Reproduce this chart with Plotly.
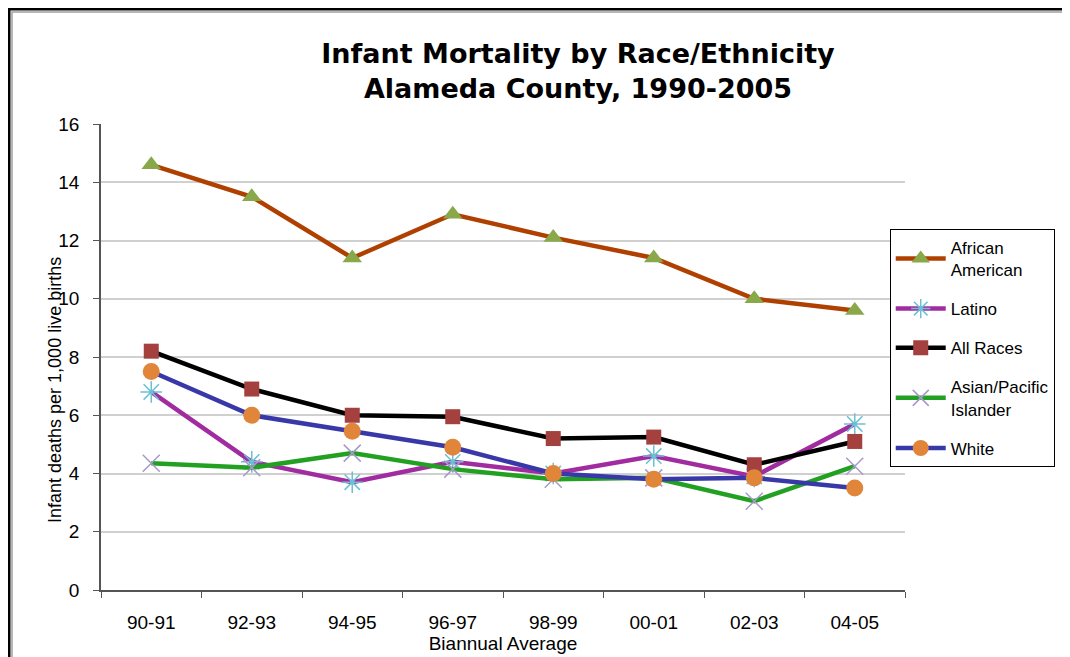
import plotly.graph_objects as go

periods = ["90-91", "92-93", "94-95", "96-97", "98-99", "00-01", "02-03", "04-05"]
african_american = [14.6, 13.5, 11.4, 12.9, 12.1, 11.4, 10.0, 9.6]
latino = [6.8, 4.4, 3.7, 4.4, 4.0, 4.6, 3.9, 5.7]
all_races = [8.2, 6.9, 6.0, 5.95, 5.2, 5.25, 4.3, 5.1]
asian_pi = [4.35, 4.2, 4.7, 4.15, 3.8, 3.85, 3.05, 4.25]
white = [7.5, 6.0, 5.45, 4.9, 4.0, 3.8, 3.85, 3.5]

y_ticks = [0, 2, 4, 6, 8, 10, 12, 14, 16]

FONT = "Liberation Sans, Arial, sans-serif"

series = [
    ("African<br>American", african_american, "#B04000",
     dict(symbol="triangle-up", size=17, color="#88A84A")),
    ("Latino", latino, "#A02CA0",
     dict(symbol="asterisk-open", size=18, color="#6BC0D4", line=dict(width=1.5))),
    ("All Races", all_races, "#000000",
     dict(symbol="square", size=15, color="#A4413F")),
    ("Asian/Pacific<br>Islander", asian_pi, "#22A022",
     dict(symbol="x-thin-open", size=17, color="#A898CC", line=dict(width=1.5))),
    ("White", white, "#3838A8",
     dict(symbol="circle", size=17, color="#E0853A")),
]

fig = go.Figure()
for i, (name, vals, line_color, marker) in enumerate(series):
    fig.add_trace(go.Scatter(
        x=periods, y=vals, name=name, mode="lines+markers",
        legendgroup=f"g{i}",
        line=dict(color=line_color, width=4.5),
        marker=marker,
    ))

# the page body adds an 8px offset, so the figure is 8px smaller on each axis
fig.update_layout(
    width=1062, height=649,
    paper_bgcolor="white", plot_bgcolor="white",
    margin=dict(l=93, r=165, t=116, b=67),
    font=dict(family=FONT, size=19, color="#000000"),
    title=dict(
        text="Infant Mortality by Race/Ethnicity<br>Alameda County, 1990-2005",
        x=570 / 1062, xanchor="center", y=0.915, yanchor="top",
        font=dict(family="DejaVu Sans, Verdana, sans-serif", size=27, color="#000000", weight="bold"),
    ),
    legend=dict(
        x=0.981, xanchor="left", y=0.775, yanchor="top",
        bgcolor="white", bordercolor="#000000", borderwidth=1,
        font=dict(family=FONT, size=17),
        tracegroupgap=14, itemwidth=50,
    ),
    showlegend=True,
)

fig.update_xaxes(
    type="category", range=[-0.5, len(periods) - 0.5],
    showline=True, linecolor="#555555", linewidth=1.5,
    ticks="outside", tickson="boundaries", ticklen=6, tickcolor="#555555",
    showgrid=False, zeroline=False, automargin=False,
    tickfont=dict(size=19), ticklabelstandoff=14,
    title=dict(text="Biannual Average", standoff=2, font=dict(size=19)),
)
fig.update_yaxes(
    range=[0, 16], tickvals=y_ticks,
    showline=True, linecolor="#555555", linewidth=1.5,
    ticks="outside", ticklen=6, tickcolor="#555555",
    showgrid=True, gridcolor="#D0D0D0", gridwidth=1.5,
    zeroline=False, tickfont=dict(size=19), ticklabelstandoff=10,
    automargin=False,
)

fig.add_annotation(
    text="Infant deaths per 1,000 live births",
    xref="paper", yref="paper",
    x=(55 - 101) / 804, y=(590 - 390) / 466,
    xanchor="center", yanchor="middle",
    textangle=-90, showarrow=False,
    font=dict(family=FONT, size=18),
)

# outer chart frame
fig.add_shape(type="rect", xref="paper", yref="paper",
              x0=(9 - 101) / 804, x1=(1075 - 101) / 804,
              y0=(590 - 665) / 466, y1=(590 - 9) / 466,
              line=dict(color="#000000", width=3), layer="below")
fig.add_shape(type="rect", xref="paper", yref="paper",
              x0=(12 - 101) / 804, x1=(1072 - 101) / 804,
              y0=(590 - 662) / 466, y1=(590 - 12) / 466,
              line=dict(color="#A0A0A0", width=1.5), layer="below")

fig.write_html("out.html")
